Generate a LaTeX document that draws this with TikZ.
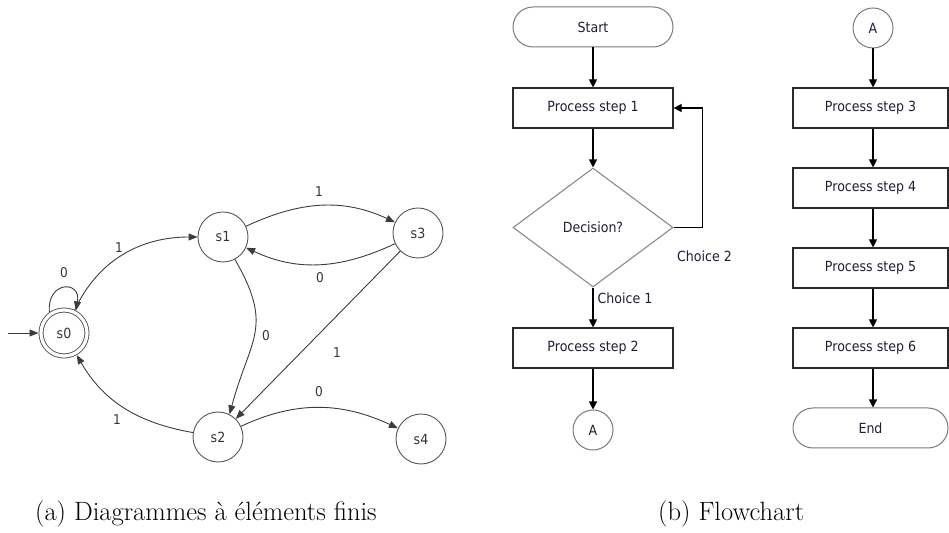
\documentclass[tikz,border=0pt]{standalone}
\usepackage{fontspec}
\newfontfamily\uifont[FakeStretch=0.9]{DejaVu Sans}
\usetikzlibrary{arrows.meta,shapes.geometric}
\definecolor{stategray}{HTML}{555555}
\definecolor{statetext}{HTML}{333333}
\definecolor{edgegray}{HTML}{3C3C3C}
\definecolor{boxline}{HTML}{2A2A2A}
\definecolor{termline}{HTML}{7A7A7A}
\definecolor{decline}{HTML}{8A8A8A}
\definecolor{fctext}{HTML}{1E1E36}
\begin{document}
\begin{tikzpicture}[x=1pt,y=1pt,
  state/.style={circle, draw=stategray, line width=0.9pt, minimum size=50pt, inner sep=0pt,
    font=\uifont\fontsize{14}{14}\selectfont, text=statetext},
  trans/.style={draw=edgegray, line width=0.9pt, -{Triangle[length=9pt,width=7pt]}},
  lbl/.style={font=\uifont\fontsize{13.5}{13.5}\selectfont, text=statetext, inner sep=0pt},
  proc/.style={rectangle, draw=boxline, line width=1.2pt, minimum width=160pt, minimum height=40pt,
    inner sep=0pt, font=\uifont\fontsize{14}{14}\selectfont, text=fctext},
  term/.style={rectangle, rounded corners=20pt, draw=termline, line width=1pt, minimum width=160pt,
    minimum height=40pt, inner sep=0pt, font=\uifont\fontsize{14}{14}\selectfont, text=fctext},
  dec/.style={diamond, draw=decline, line width=1.1pt, minimum width=160pt, minimum height=119pt,
    inner sep=0pt, font=\uifont\fontsize{14}{14}\selectfont, text=fctext},
  conn/.style={circle, draw=termline, line width=1pt, minimum size=40pt, inner sep=0pt,
    font=\uifont\fontsize{14}{14}\selectfont, text=fctext},
  fclbl/.style={font=\uifont\fontsize{14}{14}\selectfont, text=fctext, inner sep=0pt},
  fcarrow/.style={draw=black, line width=1.2pt, -{Triangle[length=8pt,width=8pt]}},
  captxt/.style={anchor=base west, inner sep=0pt, font=\fontsize{26.5}{30}\selectfont}
]
\useasboundingbox (0,0) rectangle (949,532);

% ---------- finite state diagram ----------
\node[state, double, double distance=3.2pt, minimum size=46pt, outer sep=2.5pt] (s0) at (64,199) {s0};
\node[state] (s1) at (223,295) {s1};
\node[state] (s3) at (418,299) {s3};
\node[state] (s2) at (218,95) {s2};
\node[state] (s4) at (421,93) {s4};
\coordinate (init) at (8,199);

\draw[trans] (init) -- (s0);
\draw[trans] (s0.125) to[out=95,in=80,looseness=3] (s0.62);
\draw[trans] (s0) to[out=65,in=180] (s1);
\draw[trans] (s1) to[out=25,in=155] (s3);
\draw[trans] (s3) to[out=205,in=-25] (s1);
\draw[trans] (s1.-62) to[out=-60,in=75,looseness=1.3] (s2.63);
\draw[trans] (s3) -- (s2);
\draw[trans] (s2) to[out=170,in=-60] (s0);
\draw[trans] (s2) to[out=25,in=155] (s4);

\node[lbl] (l00) at (64,259) {0};
\node[lbl] (l01) at (119,284) {1};
\node[lbl] (l13) at (319,340) {1};
\node[lbl] (l31) at (320,254) {0};
\node[lbl] (l12) at (266,196) {0};
\node[lbl] (l32) at (337,179) {1};
\node[lbl] (l20) at (117,112) {1};
\node[lbl] (l24) at (319,140) {0};

% ---------- flowchart ----------
\node[term] (start) at (593,505) {Start};
\node[proc] (p1) at (593,424) {Process step 1};
\node[dec] (dec) at (593,304.5) {Decision?};
\node[proc] (p2) at (593,184) {Process step 2};
\node[conn] (a1) at (593,102) {A};
\node[fclbl] (c1) at (625,234) {Choice 1};
\node[fclbl] (c2) at (704.5,276) {Choice 2};

\draw[fcarrow] (start) -- (p1);
\draw[fcarrow] (p1) -- (dec);
\draw[fcarrow] (dec.east) -- ++(29,0) coordinate (loopc) |- (p1.east);
\draw[fcarrow] (dec) -- (p2);
\draw[fcarrow] (p2) -- (a1);

\node[conn] (a2) at (873,504) {A};
\node[proc, minimum width=155pt] (p3) at (870.5,424) {Process step 3};
\node[proc, minimum width=155pt] (p4) at (870.5,344) {Process step 4};
\node[proc, minimum width=155pt] (p5) at (870.5,264) {Process step 5};
\node[proc, minimum width=155pt] (p6) at (870.5,184) {Process step 6};
\node[term, minimum width=155pt] (end) at (870.5,104) {End};

\draw[fcarrow] (a2.south) -- (a2.south |- p3.north);
\draw[fcarrow] (p3.south -| a2) -- (p4.north -| a2);
\draw[fcarrow] (p4.south -| a2) -- (p5.north -| a2);
\draw[fcarrow] (p5.south -| a2) -- (p6.north -| a2);
\draw[fcarrow] (p6.south -| a2) -- (end.north -| a2);

% ---------- captions ----------
\node[captxt] (capa) at (35,12) {(a) Diagrammes à éléments finis};
\node[captxt] (capb) at (658,12) {(b) Flowchart};
\end{tikzpicture}
\end{document}
